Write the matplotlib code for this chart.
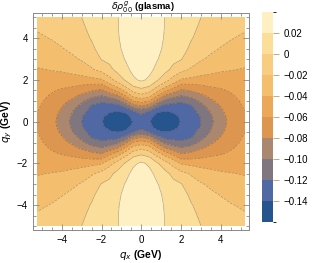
import numpy as np
import matplotlib
matplotlib.use("Agg")
import matplotlib.pyplot as plt
from matplotlib.colors import ListedColormap, BoundaryNorm

plt.rcParams['font.family'] = ['Liberation Sans', 'DejaVu Sans']

# one quadrant of the field (qx >= 0, qy >= 0), mirrored below
qx = [0.0, 0.4, 0.8, 1.2, 1.6, 2.0, 2.5, 3.0, 3.5, 4.0, 4.5, 5.2]
qy = [0.0, 0.25, 0.5, 0.75, 1.0, 1.25, 1.5, 1.75, 2.0, 2.5, 3.0, 3.5, 4.0, 4.5, 5.0]
rho = [
    [-0.128, -0.139, -0.150, -0.153, -0.149, -0.139, -0.130, -0.120, -0.104, -0.087, -0.075, -0.062],
    [-0.125, -0.135, -0.147, -0.150, -0.146, -0.137, -0.129, -0.119, -0.102, -0.086, -0.074, -0.062],
    [-0.113, -0.121, -0.137, -0.140, -0.138, -0.132, -0.126, -0.114, -0.098, -0.083, -0.072, -0.060],
    [-0.080, -0.090, -0.114, -0.127, -0.127, -0.127, -0.122, -0.106, -0.091, -0.079, -0.069, -0.058],
    [-0.051, -0.058, -0.086, -0.105, -0.112, -0.117, -0.110, -0.096, -0.083, -0.074, -0.066, -0.056],
    [-0.025, -0.033, -0.058, -0.082, -0.093, -0.100, -0.094, -0.084, -0.074, -0.068, -0.062, -0.054],
    [-0.006, -0.013, -0.034, -0.054, -0.069, -0.083, -0.078, -0.071, -0.066, -0.062, -0.058, -0.052],
    [0.010, 0.004, -0.014, -0.031, -0.046, -0.064, -0.063, -0.060, -0.057, -0.056, -0.053, -0.049],
    [0.023, 0.017, 0.002, -0.012, -0.027, -0.042, -0.045, -0.047, -0.048, -0.050, -0.048, -0.046],
    [0.029, 0.025, 0.015, 0.006, -0.005, -0.013, -0.022, -0.030, -0.034, -0.037, -0.039, -0.041],
    [0.032, 0.029, 0.021, 0.013, 0.005, 0.001, -0.011, -0.018, -0.024, -0.028, -0.031, -0.035],
    [0.034, 0.032, 0.025, 0.016, 0.010, 0.006, -0.003, -0.010, -0.016, -0.021, -0.025, -0.029],
    [0.035, 0.033, 0.027, 0.018, 0.012, 0.008, 0.001, -0.005, -0.010, -0.015, -0.019, -0.023],
    [0.036, 0.034, 0.028, 0.019, 0.013, 0.009, 0.003, -0.002, -0.006, -0.010, -0.014, -0.018],
    [0.036, 0.034, 0.028, 0.019, 0.014, 0.010, 0.004, 0.000, -0.003, -0.006, -0.010, -0.014],
]

levels = [-0.162, -0.14, -0.12, -0.10, -0.08, -0.06, -0.04, -0.02, 0.0, 0.02, 0.04]
band_colors = ['#26548C', '#5069A5', '#807680', '#AA876E', '#DC9650',
               '#EBA858', '#F3BE6E', '#F8CD82', '#FCDE9B', '#FFF0C3']
cbar_ticks = [0.02, 0.0, -0.02, -0.04, -0.06, -0.08, -0.10, -0.12, -0.14]
cbar_labels = ['0.02', '0', '\u22120.02', '\u22120.04', '\u22120.06', '\u22120.08',
               '\u22120.10', '\u22120.12', '\u22120.14']

# mirror the quadrant
q = np.array(rho)
full = np.vstack([q[::-1, :], q[1:, :]])
full = np.hstack([full[:, ::-1], full[:, 1:]])
X = np.concatenate([-np.array(qx[::-1]), np.array(qx[1:])])
Y = np.concatenate([-np.array(qy[::-1]), np.array(qy[1:])])

cmap = ListedColormap(band_colors)
norm = BoundaryNorm(levels, cmap.N)

fig = plt.figure(figsize=(3.13, 2.63), dpi=100)
ax = fig.add_axes([0.105, 0.125, 0.69, 0.825])
ax.contourf(X, Y, full, levels=levels, cmap=cmap, norm=norm)
ax.contour(X, Y, full, levels=levels[1:-1], colors='#5a4a3a', linewidths=0.5, alpha=0.45)
ax.set_xlim(-5.45, 5.4)
ax.set_ylim(-5.2, 5.2)

ax.set_xticks([-4, -2, 0, 2, 4])
ax.set_yticks([-4, -2, 0, 2, 4])
ax.set_xticklabels(['\u22124', '\u22122', '0', '2', '4'])
ax.set_yticklabels(['\u22124', '\u22122', '0', '2', '4'])
ax.set_xticks(np.arange(-5, 5.01, 0.5), minor=True)
ax.set_yticks(np.arange(-5, 5.01, 0.5), minor=True)
ax.tick_params(which='both', direction='in', top=True, right=True, labelsize=7,
               color='#888888', width=0.6)
ax.tick_params(which='major', length=4)
ax.tick_params(which='minor', length=2)
for s in ax.spines.values():
    s.set_color('#888888')
    s.set_linewidth(0.7)

ax.set_xlabel(r'$\boldsymbol{q_x}$ (GeV)', fontsize=7.5, fontweight='bold', labelpad=2)
ax.set_ylabel(r'$\boldsymbol{q_y}$ (GeV)', fontsize=7.5, fontweight='bold', labelpad=2)
fig.text(0.455, 0.962, r'$\delta\rho^{g}_{00}$ (glasma)', fontsize=6.8, fontweight='bold',
         ha='center', va='baseline')

cax = fig.add_axes([0.837, 0.156, 0.035, 0.80])
cb = fig.colorbar(plt.cm.ScalarMappable(norm=norm, cmap=cmap), cax=cax, ticks=cbar_ticks)
cb.ax.set_yticklabels(cbar_labels)
cb.ax.tick_params(labelsize=7, length=4, width=0.6, color='#c89a5a')
cb.outline.set_visible(False)

fig.savefig('out.png', dpi=100)
